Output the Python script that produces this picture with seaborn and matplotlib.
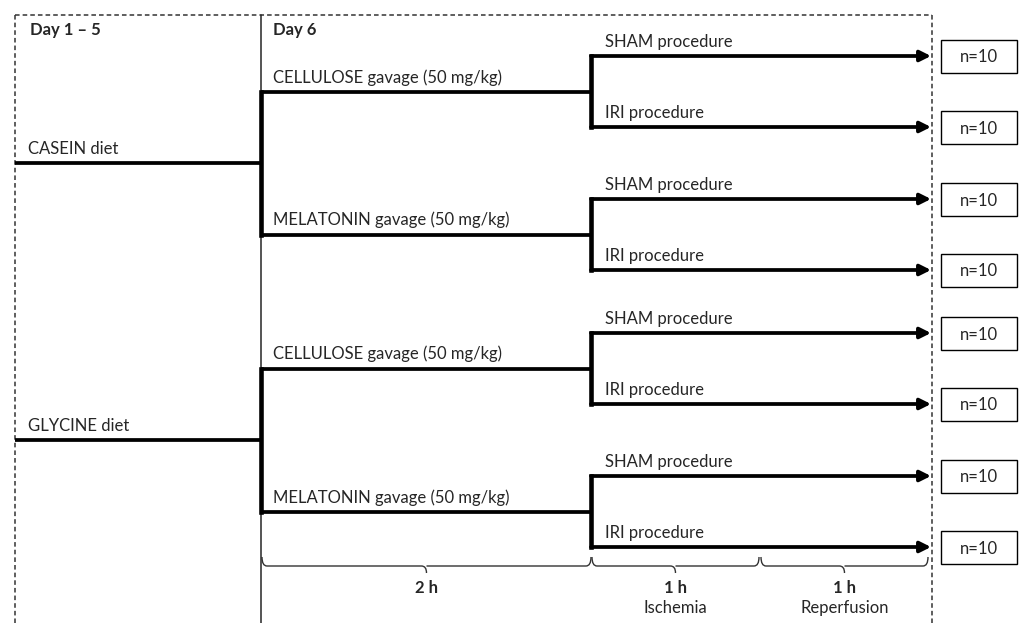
import numpy as np
import matplotlib
matplotlib.use('Agg')
import matplotlib.pyplot as plt
from matplotlib.patches import Rectangle, FancyArrowPatch
from matplotlib.path import Path
from matplotlib.patches import PathPatch
import seaborn as sns

# data
diets = ['CASEIN diet', 'GLYCINE diet']
gavages = ['CELLULOSE gavage (50 mg/kg)', 'MELATONIN gavage (50 mg/kg)']
procedures = ['SHAM procedure', 'IRI procedure']
group_n = [10, 10, 10, 10, 10, 10, 10, 10]
phase_hours = ['2 h', '1 h', '1 h']
phase_names = ['', 'Ischemia', 'Reperfusion']
day_labels = ['Day 1 \u2013 5', 'Day 6']

sns.set_theme(style='white')
plt.rcParams['font.family'] = ['Lato', 'DejaVu Sans']

fig = plt.figure(figsize=(10.24, 6.23), dpi=100)
ax = fig.add_axes([0, 0, 1, 1])
ax.set_xlim(0, 1024)
ax.set_ylim(623, 0)
ax.axis('off')

# layout (pixels)
x_left, x_split, x_branch, x_end, x_right = 15, 261, 591, 931, 932
diet_y = [163, 440]
gav_off = 71.5
proc_off = 35.5
fs = 12
thick = 2.7

# dashed frame
ax.plot([x_left, x_right], [15, 15], color='0.2', lw=1.1, ls=(0, (3, 2)))
ax.plot([x_left, x_left], [15, 623], color='0.2', lw=1.1, ls=(0, (3, 2)))
ax.plot([x_right, x_right], [15, 623], color='0.2', lw=1.1, ls=(0, (3, 2)))
ax.plot([x_split, x_split], [15, 623], color='0.15', lw=1.1)

ax.text(30, 30, day_labels[0], fontsize=fs, fontweight='bold', va='center')
ax.text(273, 30, day_labels[1], fontsize=fs, fontweight='bold', va='center')

k = 0
for i, diet in enumerate(diets):
    dy = diet_y[i]
    ax.plot([x_left, x_split], [dy, dy], color='black', lw=thick, solid_capstyle='butt')
    ax.text(28, dy - 6, diet, fontsize=fs, va='bottom')
    gys = [dy - gav_off, dy + gav_off]
    ax.plot([x_split, x_split], gys, color='black', lw=thick + 0.6, solid_capstyle='projecting')
    for j, gav in enumerate(gavages):
        gy = gys[j]
        ax.plot([x_split, x_branch], [gy, gy], color='black', lw=thick, solid_capstyle='butt')
        ax.text(273, gy - 6, gav, fontsize=fs, va='bottom')
        pys = [gy - proc_off, gy + proc_off]
        ax.plot([x_branch, x_branch], pys, color='black', lw=thick + 0.6, solid_capstyle='projecting')
        for m, proc in enumerate(procedures):
            py = pys[m]
            arr = FancyArrowPatch((x_branch, py), (x_end, py), arrowstyle='-|>',
                                  mutation_scale=16, color='black', lw=thick,
                                  shrinkA=0, shrinkB=0)
            ax.add_patch(arr)
            ax.text(605, py - 6, proc, fontsize=fs, va='bottom')
            ax.add_patch(Rectangle((941, py - 16), 76, 33, fill=False,
                                   edgecolor='black', lw=1))
            ax.text(979, py + 1.5, f'n={group_n[k]}', fontsize=fs,
                    ha='center', va='center')
            k += 1

# timeline braces
phase_x = [(262, 591), (592, 759), (761, 928)]
for (a, b), hrs, name in zip(phase_x, phase_hours, phase_names):
    m = (a + b) / 2
    top, base, tip = 557, 566, 573
    verts = [(a, top), (a, base), (a + 5, base),
             (m - 5, base), (m, base), (m, tip),
             (m, base), (m + 5, base),
             (b - 5, base), (b, base), (b, top)]
    codes = [Path.MOVETO, Path.CURVE3, Path.CURVE3,
             Path.LINETO, Path.CURVE3, Path.CURVE3,
             Path.MOVETO, Path.LINETO,
             Path.LINETO, Path.CURVE3, Path.CURVE3]
    ax.add_patch(PathPatch(Path(verts, codes), fill=False, edgecolor='0.2', lw=1))
    ax.text(m, 588, hrs, fontsize=fs, fontweight='bold', ha='center', va='center')
    if name:
        ax.text(m, 608, name, fontsize=fs, ha='center', va='center')

plt.savefig('out.png', dpi=100)
